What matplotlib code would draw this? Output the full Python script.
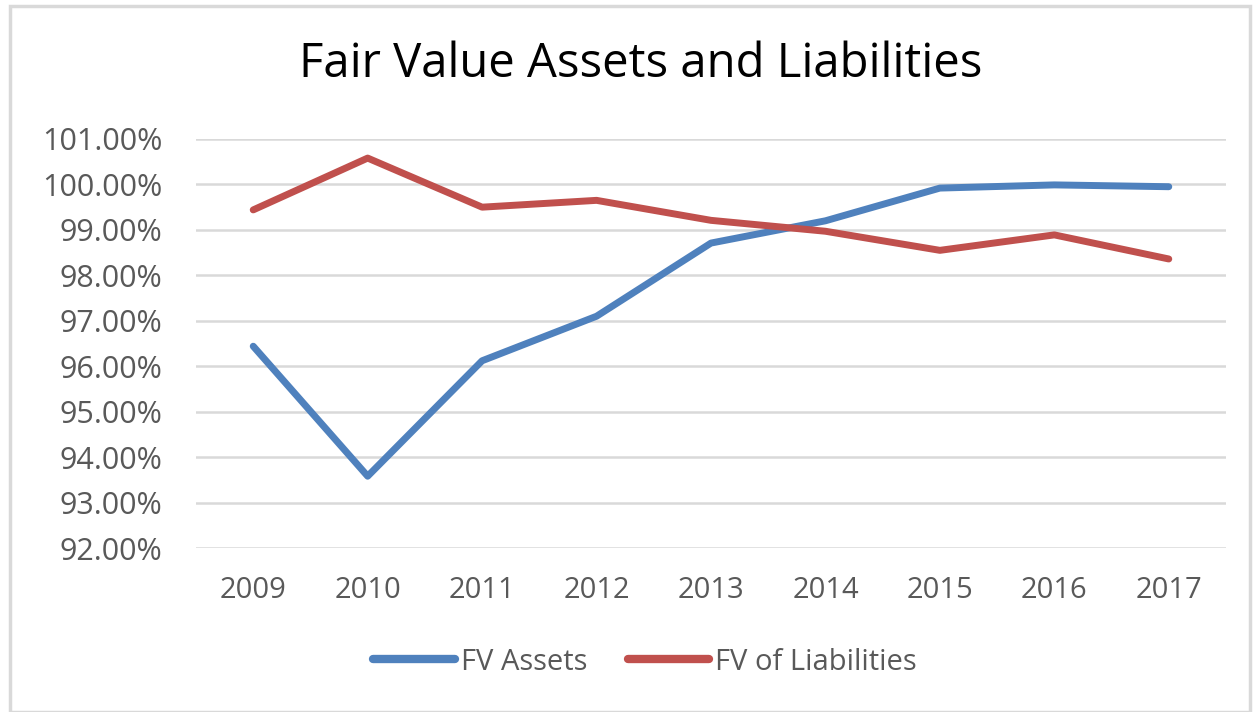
import matplotlib
matplotlib.use("Agg")
import matplotlib.pyplot as plt
from matplotlib.patches import Rectangle
from matplotlib.ticker import FuncFormatter

years = ["2009", "2010", "2011", "2012", "2013", "2014", "2015", "2016", "2017"]
fv_assets = [96.44, 93.58, 96.12, 97.10, 98.71, 99.20, 99.92, 99.99, 99.95]
fv_liabilities = [99.44, 100.58, 99.50, 99.65, 99.21, 98.97, 98.55, 98.89, 98.36]
title = "Fair Value Assets and Liabilities"
series_names = ["FV Assets", "FV of Liabilities"]

plt.rcParams['font.family'] = ['Open Sans', 'DejaVu Sans']

W, H = 1257, 712
fig = plt.figure(figsize=(W / 100, H / 100), dpi=100)
fig.patch.set_facecolor("white")

# outer frame
fig.add_artist(Rectangle((10 / W, 0 / H), (1250 - 10) / W, (706 - 0) / H,
                         transform=fig.transFigure, fill=False,
                         edgecolor="#d9d9d9", linewidth=2.5))

ax = fig.add_axes([196 / W, 1 - 548 / H, (1226 - 196) / W, (548 - 139) / H])
x = list(range(len(years)))
ax.plot(x, fv_assets, color="#4F81BD", linewidth=5, solid_capstyle="round",
        solid_joinstyle="round", label=series_names[0])
ax.plot(x, fv_liabilities, color="#C0504D", linewidth=5, solid_capstyle="round",
        solid_joinstyle="round", label=series_names[1])

ax.set_xlim(-0.5, len(years) - 0.5)
ax.set_ylim(92, 101)
ax.set_yticks(range(92, 102))
ax.yaxis.set_major_formatter(FuncFormatter(lambda v, p: f"{v:.2f}%"))
ax.set_xticks(x)
ax.set_xticklabels(years)
ax.grid(axis="y", color="#d9d9d9", linewidth=1.8)
ax.set_axisbelow(True)
for s in ax.spines.values():
    s.set_visible(False)
ax.tick_params(length=0, colors="#595959", labelsize=21)
ax.tick_params(axis="y", labelsize=22, pad=24)
ax.tick_params(axis="x", pad=20)

fig.text(641 / W, 1 - 64 / H, title, ha="center", va="center",
         fontsize=34, color="black")

leg = fig.legend(loc="center", bbox_to_anchor=(645 / W, 1 - 662 / H),
                 ncol=2, frameon=False, fontsize=21, handlelength=2.8,
                 handletextpad=0.2, columnspacing=1.4, labelcolor="#595959")
for line in leg.get_lines():
    line.set_linewidth(6)

fig.savefig("out.png", dpi=100, facecolor="white")
